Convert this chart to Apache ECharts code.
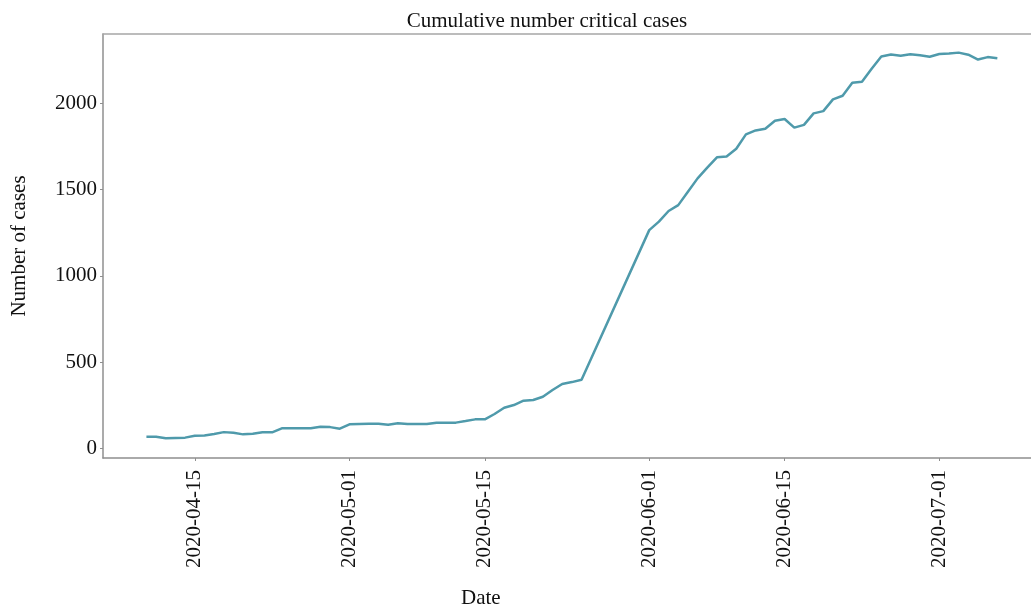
<!DOCTYPE html>
<html>
<head>
<meta charset="utf-8">
<title>Cumulative number critical cases</title>
<script src="https://cdn.jsdelivr.net/npm/echarts@6/dist/echarts.min.js"></script>
<style>
  html, body { margin: 0; padding: 0; background: #ffffff; }
  #chart { width: 1031px; height: 607px; }
</style>
</head>
<body>
<div id="chart"></div>
<script>
// Reporting dates (no reports between 2020-05-26 and 2020-05-31)
const dates = [
  '2020-04-10','2020-04-11','2020-04-12','2020-04-13','2020-04-14','2020-04-15','2020-04-16',
  '2020-04-17','2020-04-18','2020-04-19','2020-04-20','2020-04-21','2020-04-22','2020-04-23',
  '2020-04-24','2020-04-25','2020-04-26','2020-04-27','2020-04-28','2020-04-29','2020-04-30',
  '2020-05-01','2020-05-02','2020-05-03','2020-05-04','2020-05-05','2020-05-06','2020-05-07',
  '2020-05-08','2020-05-09','2020-05-10','2020-05-11','2020-05-12','2020-05-13','2020-05-14',
  '2020-05-15','2020-05-16','2020-05-17','2020-05-18','2020-05-19','2020-05-20','2020-05-21',
  '2020-05-22','2020-05-23','2020-05-24','2020-05-25',
  '2020-06-01','2020-06-02','2020-06-03','2020-06-04','2020-06-05','2020-06-06','2020-06-07',
  '2020-06-08','2020-06-09','2020-06-10','2020-06-11','2020-06-12','2020-06-13','2020-06-14',
  '2020-06-15','2020-06-16','2020-06-17','2020-06-18','2020-06-19','2020-06-20','2020-06-21',
  '2020-06-22','2020-06-23','2020-06-24','2020-06-25','2020-06-26','2020-06-27','2020-06-28',
  '2020-06-29','2020-06-30','2020-07-01','2020-07-02','2020-07-03','2020-07-04','2020-07-05',
  '2020-07-06','2020-07-07'
];

// Cumulative number of critical cases on each reporting date
const criticalCases = [
  67, 67, 58, 60, 62, 73, 75,
  83, 94, 90, 81, 85, 93, 93,
  116, 116, 116, 116, 125, 123, 114,
  139, 141, 143, 143, 137, 145, 141,
  141, 141, 149, 149, 149, 158, 168,
  168, 199, 235, 251, 276, 280, 299,
  338, 373, 384, 398,
  1265, 1314, 1376, 1410, 1488, 1565, 1627,
  1687, 1692, 1737, 1820, 1843, 1853, 1899,
  1909, 1859, 1875, 1942, 1955, 2023, 2044,
  2119, 2125, 2200, 2272, 2283, 2276, 2284,
  2279, 2270, 2286, 2289, 2294, 2282, 2254,
  2268, 2261
];

// Axis ticks
const xTickDates = ['2020-04-15', '2020-05-01', '2020-05-15', '2020-06-01', '2020-06-15', '2020-07-01'];
const yTickValues = [0, 500, 1000, 1500, 2000];

const FONT = '"Liberation Serif", "Times New Roman", "DejaVu Serif", serif';
const AXIS_GRAY = '#8f8f8f';
const FRAME_GRAY = '#a6a6a6';

// Dates are placed on a numeric axis as timestamps (local midnight)
function toTime(s) {
  const p = s.split('-').map(Number);
  return new Date(p[0], p[1] - 1, p[2]).getTime();
}
function pad(n) { return (n < 10 ? '0' : '') + n; }
function fmtDate(t) {
  const d = new Date(t);
  return d.getFullYear() + '-' + pad(d.getMonth() + 1) + '-' + pad(d.getDate());
}

const xTicks = xTickDates.map(toTime);
const seriesData = dates.map((d, i) => [toTime(d), criticalCases[i]]);

// Visible date window; the plot runs past the right edge of the canvas
const xMin = new Date(2020, 3, 5, 12, 14).getTime();
const xMax = new Date(2020, 6, 10, 11, 32).getTime();

const chart = echarts.init(document.getElementById('chart'), null, { renderer: 'canvas' });

chart.setOption({
  backgroundColor: '#ffffff',
  animation: false,
  title: {
    text: 'Cumulative number critical cases',
    left: 542,
    top: 6,
    textAlign: 'center',
    textStyle: { fontFamily: FONT, fontSize: 21, fontWeight: 'normal', color: '#111111' }
  },
  grid: {
    left: 103,
    top: 34,
    right: 0,
    bottom: 149,
    show: false,
    containLabel: false
  },
  xAxis: [
    {
      type: 'value',
      min: xMin,
      max: xMax,
      axisLine: { show: true, onZero: false, lineStyle: { color: AXIS_GRAY, width: 1.5 } },
      axisTick: { show: true, length: 3, customValues: xTicks, lineStyle: { color: AXIS_GRAY, width: 1 } },
      axisLabel: {
        customValues: xTicks,
        rotate: 90,
        margin: 12,
        formatter: (v) => fmtDate(v),
        fontFamily: FONT,
        fontSize: 21,
        color: '#111111'
      },
      splitLine: { show: false }
    },
    {
      // top frame line
      type: 'value',
      position: 'top',
      min: xMin,
      max: xMax,
      axisLine: { show: true, onZero: false, lineStyle: { color: FRAME_GRAY, width: 1.5 } },
      axisTick: { show: false },
      axisLabel: { show: false },
      splitLine: { show: false }
    }
  ],
  yAxis: {
    type: 'value',
    min: -56,
    max: 2402,
    name: 'Number of cases',
    nameLocation: 'middle',
    nameGap: 73,
    nameTextStyle: { fontFamily: FONT, fontSize: 21, color: '#111111' },
    axisLine: { show: true, onZero: false, lineStyle: { color: AXIS_GRAY, width: 1.5 } },
    axisTick: { show: true, length: 3, customValues: yTickValues, lineStyle: { color: AXIS_GRAY, width: 1 } },
    axisLabel: {
      customValues: yTickValues,
      margin: 6,
      formatter: (v) => String(v),
      fontFamily: FONT,
      fontSize: 21,
      color: '#111111'
    },
    splitLine: { show: false }
  },
  graphic: [
    {
      type: 'text',
      left: 461,
      top: 588,
      style: { text: 'Date', font: '21px ' + FONT, fill: '#111111' }
    }
  ],
  series: [
    {
      type: 'line',
      xAxisIndex: 0,
      data: seriesData,
      showSymbol: false,
      lineStyle: { color: '#4f9aab', width: 2.5 },
      itemStyle: { color: '#4f9aab' }
    }
  ]
});
</script>
</body>
</html>
